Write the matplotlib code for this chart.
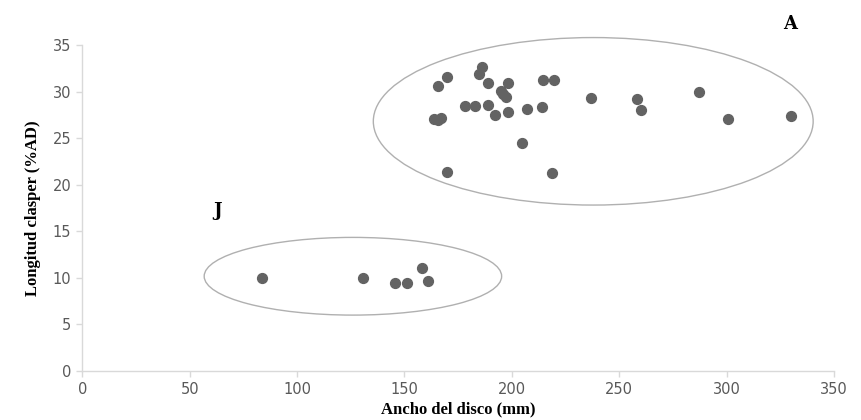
import matplotlib
matplotlib.use("Agg")
import matplotlib.pyplot as plt
from matplotlib.patches import Ellipse

# adultos (A)
ancho_a = [169.8, 165.5, 186.2, 184.7, 188.9, 198.0, 214.6, 219.7, 194.9, 196.0,
           197.1, 178.0, 183.0, 188.9, 192.1, 198.0, 207.0, 213.9, 237.0, 258.1,
           260.0, 287.0, 300.7, 329.9, 163.9, 165.5, 167.0, 204.8, 169.8, 218.8]
clasper_a = [31.6, 30.6, 32.6, 31.85, 30.9, 30.9, 31.2, 31.2, 30.06, 29.7,
             29.4, 28.4, 28.4, 28.5, 27.5, 27.8, 28.1, 28.3, 29.3, 29.2,
             28.0, 30.0, 27.1, 27.4, 27.0, 26.9, 27.2, 24.5, 21.35, 21.2]

# juveniles (J)
ancho_j = [83.5, 130.5, 145.4, 151.1, 158.0, 160.9]
clasper_j = [10.0, 10.0, 9.45, 9.45, 11.0, 9.6]

xticks = [0, 50, 100, 150, 200, 250, 300, 350]
yticks = [0, 5, 10, 15, 20, 25, 30, 35]

fig = plt.figure(figsize=(8.62, 4.2), dpi=100)
ax = fig.add_axes([82.3 / 862, 1 - 370.7 / 420, (834 - 82.3) / 862, (370.7 - 45) / 420])

ax.scatter(ancho_a, clasper_a, s=50, color="#636363", zorder=3, clip_on=False)
ax.scatter(ancho_j, clasper_j, s=50, color="#636363", zorder=3, clip_on=False)

ax.add_patch(Ellipse((237.9, 26.8), 204.8, 18.0, fill=False, edgecolor="#b0b0b0",
                     lw=1.0, clip_on=False))
ax.add_patch(Ellipse((126.0, 10.15), 138.5, 8.35, fill=False, edgecolor="#b0b0b0",
                     lw=1.0, clip_on=False))

ax.text(329.5, 37.3, "A", family="DejaVu Serif", fontweight="bold", fontsize=13,
        ha="center", va="center")
ax.text(62.8, 17.2, "J", family="DejaVu Serif", fontweight="bold", fontsize=13,
        ha="center", va="center")

ax.set_xlim(0, 350)
ax.set_ylim(0, 35)
ax.set_xticks(xticks)
ax.set_yticks(yticks)

for s in ["top", "right"]:
    ax.spines[s].set_visible(False)
for s in ["left", "bottom"]:
    ax.spines[s].set_color("#d9d9d9")
    ax.spines[s].set_linewidth(1.0)

ax.tick_params(axis="both", colors="#d9d9d9", labelcolor="#595959", labelsize=10.5,
               length=4, width=1.0)
ax.tick_params(axis="x", pad=4)
ax.tick_params(axis="y", pad=4)

ax.set_xlabel("Ancho del disco (mm)", family="Liberation Serif", fontweight="bold",
              fontsize=12, labelpad=3)
ax.set_ylabel("Longitud clasper (%AD)", family="Liberation Serif", fontweight="bold",
              fontsize=12, labelpad=8)

fig.savefig("out.png", dpi=100)
